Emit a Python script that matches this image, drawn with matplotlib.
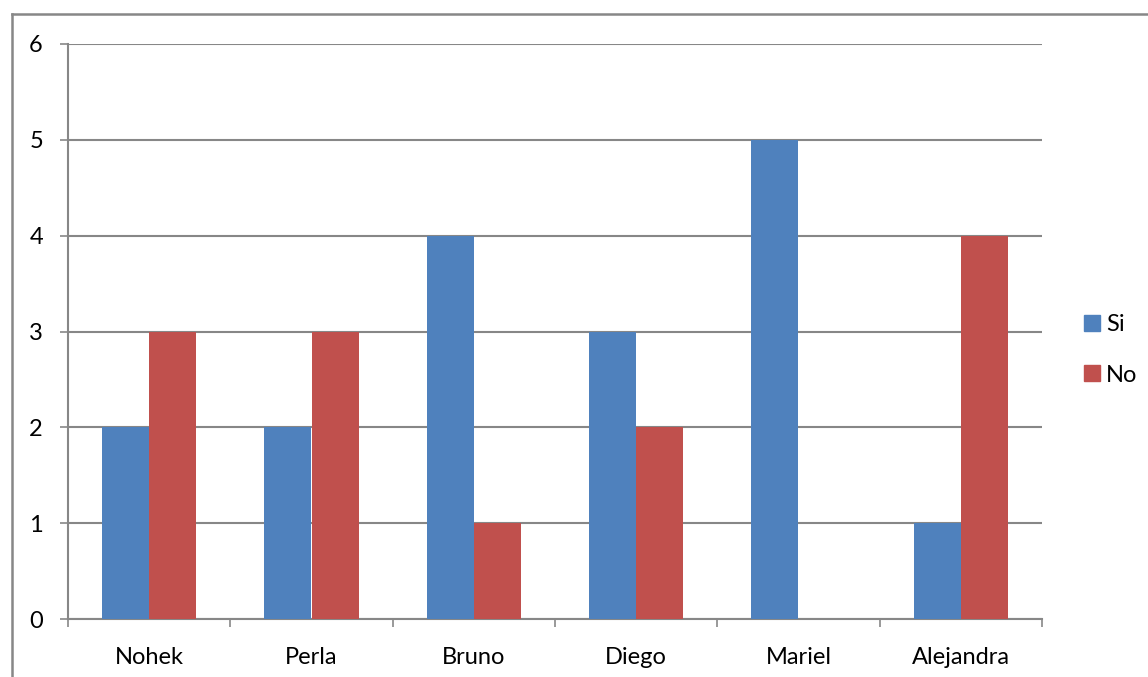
import matplotlib
matplotlib.use('Agg')
import matplotlib.pyplot as plt
from matplotlib.lines import Line2D
import numpy as np

names = ['Nohek', 'Perla', 'Bruno', 'Diego', 'Mariel', 'Alejandra']
si = [2, 2, 4, 3, 5, 1]
no = [3, 3, 1, 2, 0, 4]
yticks = [0, 1, 2, 3, 4, 5, 6]

blue = '#4F81BD'
red = '#C0504D'
gray = '#878787'

plt.rcParams['font.family'] = ['Lato', 'DejaVu Sans']

fig = plt.figure(figsize=(11.48, 6.77), dpi=100)
ax = fig.add_axes([68/1148, 1 - 619/677, (1042 - 68)/1148, (619 - 44)/677])

x = np.arange(len(names))
w = 0.29
ax.bar(x - w/2, si, w, color=blue, zorder=3)
ax.bar(x + w/2, no, w, color=red, zorder=3)

ax.set_xlim(-0.5, len(names) - 0.5)
ax.set_ylim(0, 6)
ax.set_yticks(yticks)
ax.yaxis.grid(True, color=gray, lw=1.5, zorder=0)
ax.tick_params(axis='y', length=6, width=1.2, color=gray, pad=12, labelsize=17)

ax.set_xticks(x)
ax.set_xticklabels(names)
ax.set_xticks(np.arange(-0.5, len(names)), minor=True)
ax.tick_params(axis='x', which='major', length=0, pad=20, labelsize=17)
ax.tick_params(axis='x', which='minor', length=6, width=1.2, color=gray)

for s in ['top', 'right']:
    ax.spines[s].set_visible(False)
for s in ['left', 'bottom']:
    ax.spines[s].set_color(gray)
    ax.spines[s].set_linewidth(1.5)

handles = [Line2D([], [], marker='s', ls='none', color=blue, markersize=11),
           Line2D([], [], marker='s', ls='none', color=red, markersize=11)]
fig.legend(handles, ['Si', 'No'], loc='center left', bbox_to_anchor=(1078/1148, 1 - 350/677),
           frameon=False, fontsize=17, handletextpad=0.0, labelspacing=1.25, handlelength=1.2,
           borderaxespad=0, borderpad=0)

# chart area border
fig.add_artist(Line2D([12/1148, 12/1148], [0, 1 - 14/677], color=gray, lw=1.8, transform=fig.transFigure))
fig.add_artist(Line2D([12/1148, 1], [1 - 14/677, 1 - 14/677], color=gray, lw=1.8, transform=fig.transFigure))

fig.savefig('out.png', dpi=100)
